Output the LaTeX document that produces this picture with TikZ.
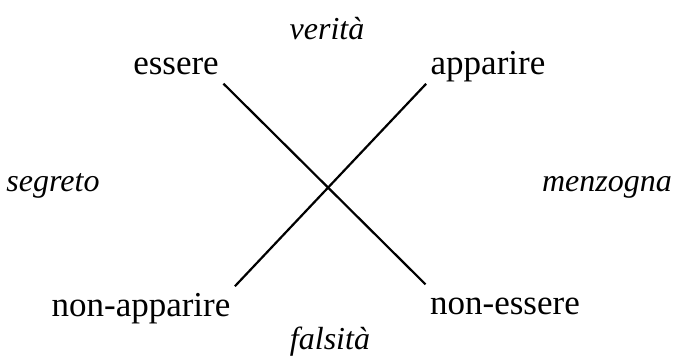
\documentclass[tikz,border=0pt]{standalone}
\usepackage{fontspec}
\setmainfont{Liberation Serif}
\begin{document}
\begin{tikzpicture}[x=0.5pt,y=-0.5pt,
 term/.style={font=\fontsize{17.5}{21}\selectfont,anchor=base,inner xsep=0pt,inner ysep=0pt,text height=13pt,text depth=2pt},
 modal/.style={font=\fontsize{16}{19}\selectfont\itshape,anchor=base,inner sep=1pt},
 diag/.style={line width=1.1pt,shorten <=3pt,shorten >=3pt}]
\useasboundingbox (0,0) rectangle (675,357);
% termini del quadrato
\node[term] (essere) at (176,75) {essere};
\node[term] (apparire) at (488,75) {apparire};
\node[term] (nonapparire) at (141,317) {non-apparire};
\node[term] (nonessere) at (505,315) {non-essere};
% modalita veridittive
\node[modal] (verita) at (327,40) {verità};
\node[modal] (segreto) at (53,192) {segreto};
\node[modal] (menzogna) at (607,192) {menzogna};
\node[modal] (falsita) at (330,350) {falsità};
% contraddittori
\draw[diag] (essere.south east) -- (nonessere.north west);
\draw[diag] (nonapparire.north east) -- (apparire.south west);
\end{tikzpicture}
\end{document}
